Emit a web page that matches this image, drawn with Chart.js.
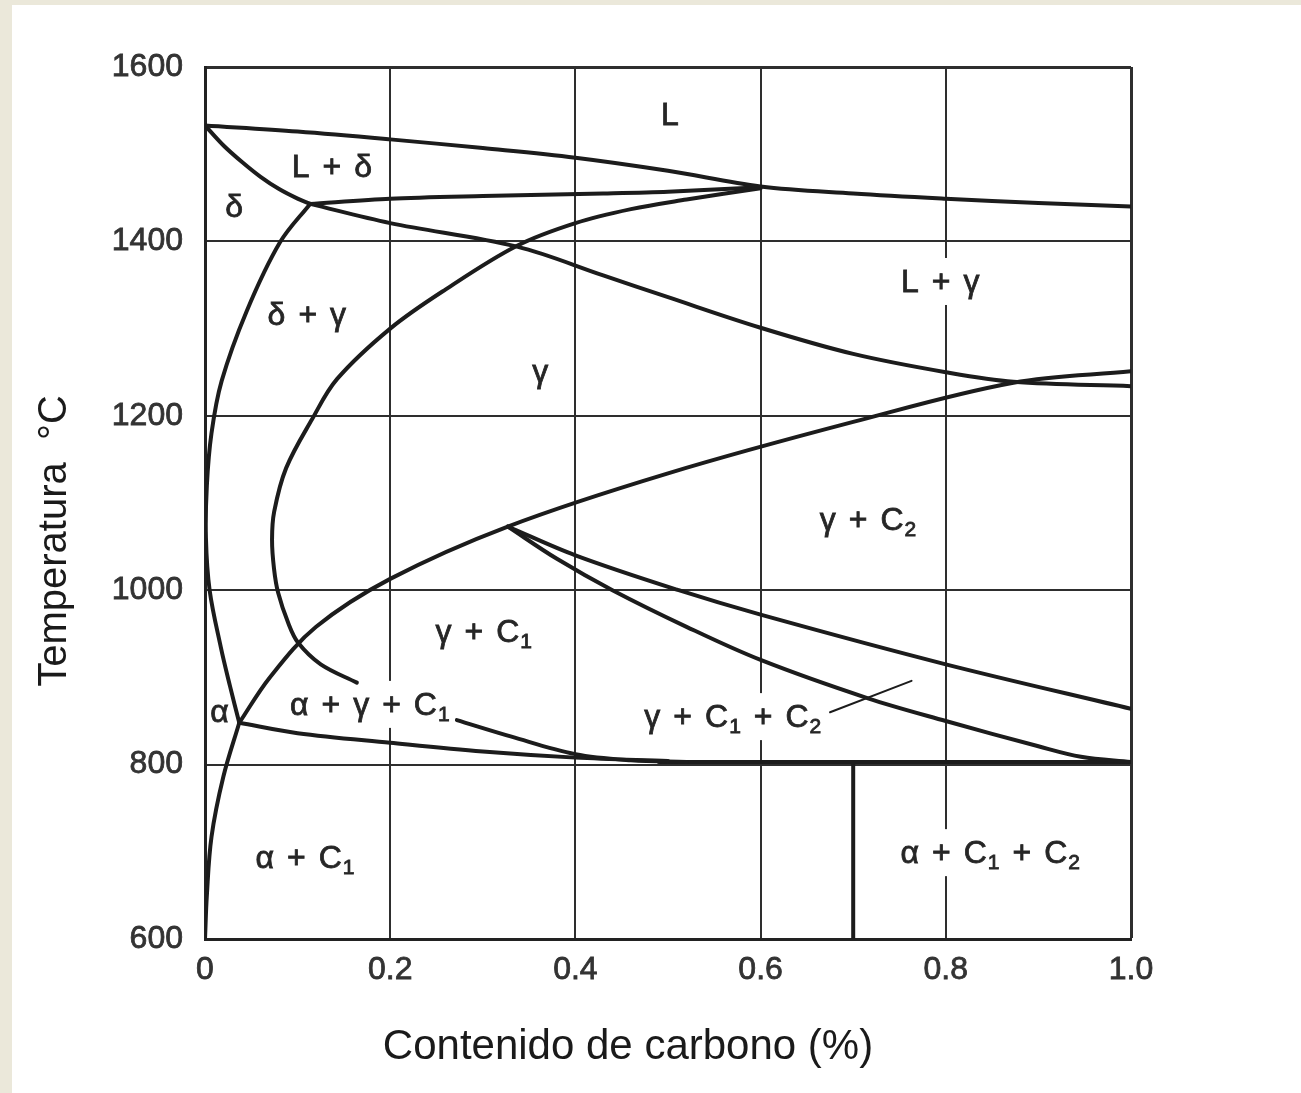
<!DOCTYPE html>
<html lang="es">
<head>
<meta charset="utf-8">
<title>Diagrama de fases Fe-C</title>
<script src="https://cdn.jsdelivr.net/npm/chart.js@4.4.1/dist/chart.umd.min.js"></script>
<style>
  html, body { margin: 0; padding: 0; background: #ebe8da; }
  #panel { position: absolute; left: 12px; top: 5px; width: 1289px; height: 1088px; background: #fff; }
  #chart { position: absolute; left: 0; top: 0; }
</style>
</head>
<body>
<div id="panel"></div>
<canvas id="chart" width="1301" height="1093"></canvas>
<script>
// ---- ejes ----
const xTicks = [0, 0.2, 0.4, 0.6, 0.8, 1.0];
const xTickLabels = ['0', '0.2', '0.4', '0.6', '0.8', '1.0'];
const yTicks = [600, 800, 1000, 1200, 1400, 1600];
const yTickLabels = ['600', '800', '1000', '1200', '1400', '1600'];
const xTitle = 'Contenido de carbono (%)';
const yTitle = 'Temperatura  °C';

// ---- líneas del diagrama: [ % C , °C ] ----
const liquidus = [[0, 1533], [0.1, 1526], [0.2, 1517], [0.3, 1507], [0.4, 1496], [0.5, 1481], [0.6, 1463], [0.7, 1455], [0.8, 1449], [0.9, 1444], [1.0, 1440]];
const deltaSolidus = [[0, 1533], [0.02, 1510], [0.04, 1491], [0.06, 1474], [0.08, 1460], [0.1, 1449], [0.1135, 1443]];
const peritectic = [[0.1135, 1443], [0.2, 1449], [0.3, 1452], [0.43, 1455], [0.5, 1457], [0.6, 1462]];
const ferriteEdge = [[0.1135, 1443], [0.081, 1399], [0.045, 1320], [0.018, 1240], [0.007, 1180], [0.002, 1120], [0.001, 1060], [0.005, 1000], [0.017, 935], [0.027, 890], [0.037, 848]];
const austeniteEdge = [[0.6, 1461], [0.52, 1448], [0.46, 1437], [0.4, 1421], [0.337, 1395], [0.26, 1345], [0.2, 1300], [0.1425, 1242], [0.1156, 1196], [0.0876, 1140], [0.0747, 1090], [0.0724, 1058], [0.0745, 1025], [0.079, 997], [0.09, 962], [0.1004, 940], [0.125, 915], [0.164, 894]];
const gammaSolidus = [[0.1135, 1443], [0.2, 1421], [0.337, 1394], [0.43, 1361], [0.5, 1336], [0.6, 1301], [0.7, 1271], [0.8, 1250], [0.873, 1239], [1.0, 1234]];
const gammaSolvus = [[0.037, 848], [0.07, 900], [0.12, 958], [0.2, 1013], [0.327, 1073], [0.5, 1134], [0.7, 1193], [0.873, 1238], [1.0, 1251]];
const carbideUpper = [[0.327, 1073], [0.4, 1040], [0.5115, 1000], [0.6, 972], [0.8, 915], [1.0, 864]];
const carbideLower = [[0.327, 1073], [0.38, 1036], [0.44, 1000], [0.52, 958], [0.6, 920], [0.716, 876], [0.8, 850], [0.9, 821], [0.946, 809], [1.0, 803]];
const alphaSolvus = [[0.037, 848], [0.0198, 786], [0.007, 717], [0.002, 650], [0, 600]];
const eutectoidLow = [[0.037, 848], [0.1, 836], [0.2, 825], [0.3, 815], [0.4, 808], [0.5, 804]];
const eutectoidHigh = [[0.272, 851], [0.331, 832], [0.4, 812], [0.46, 805], [0.52, 803]];
const eutectoidFlat = [[0.49, 803], [1.0, 803]];
const carbideSplit = [[0.7, 803], [0.7, 600]];
const leaderLine = [[0.675, 860], [0.763, 896]];

// ---- nombres de las regiones: [texto, % C, °C de la línea base] ----
const regionLabels = [
  ['L', 0.502, 1533],
  ['L + δ', 0.137, 1474],
  ['δ', 0.0315, 1428],
  ['δ + γ', 0.110, 1304],
  ['γ', 0.362, 1239],
  ['L + γ', 0.794, 1342],
  ['γ + C_2', 0.716, 1069],
  ['γ + C_1', 0.301, 941],
  ['α + γ + C_1', 0.178, 857],
  ['α', 0.0157, 849],
  ['γ + C_1 + C_2', 0.570, 843],
  ['α + C_1', 0.108, 681],
  ['α + C_1 + C_2', 0.848, 687]
];

const FONT = '"Liberation Sans", Arial, Helvetica, sans-serif';
const INK = '#1c1c1c';

function line(points, opts) {
  return Object.assign({
    data: points.map(([x, y]) => ({ x, y })),
    showLine: true,
    borderColor: INK,
    borderWidth: 4,
    tension: 0.35,
    pointRadius: 0,
    pointHoverRadius: 0,
    fill: false,
    borderCapStyle: 'round',
    borderJoinStyle: 'round'
  }, opts || {});
}

// texto tipo "α + C_1": los tokens se separan con un hueco fijo, "_" marca subíndice
function drawRegionLabel(ctx, text, cx, base) {
  const size = 32, subSize = 21, gap = 13;
  const tokens = text.split(' ').map(t => t.split('_'));
  const widths = tokens.map(([main, sub]) => {
    ctx.font = size + 'px ' + FONT;
    let w = ctx.measureText(main).width;
    if (sub) {
      ctx.font = subSize + 'px ' + FONT;
      w += 1 + ctx.measureText(sub).width;
    }
    return w;
  });
  const total = widths.reduce((a, b) => a + b, 0) + gap * (tokens.length - 1);
  let x = cx - total / 2;

  // fondo blanco que corta la cuadrícula bajo el texto
  ctx.fillStyle = '#fff';
  ctx.fillRect(x - 3, base - 34, total + 6, 47);

  ctx.fillStyle = '#262626';
  ctx.strokeStyle = '#262626';
  ctx.lineWidth = 0.8;
  ctx.textBaseline = 'alphabetic';
  ctx.textAlign = 'left';
  tokens.forEach(([main, sub], i) => {
    ctx.font = size + 'px ' + FONT;
    ctx.fillText(main, x, base);
    ctx.strokeText(main, x, base);
    if (sub) {
      const mw = ctx.measureText(main).width;
      ctx.font = subSize + 'px ' + FONT;
      ctx.fillText(sub, x + mw + 1, base + 6);
      ctx.strokeText(sub, x + mw + 1, base + 6);
    }
    x += widths[i] + gap;
  });
}

const regionLabelPlugin = {
  id: 'regionLabels',
  beforeDatasetsDraw(chart) {
    const { ctx, scales } = chart;
    ctx.save();
    regionLabels.forEach(([text, c, t]) => {
      drawRegionLabel(ctx, text, scales.x.getPixelForValue(c), scales.y.getPixelForValue(t));
    });
    ctx.restore();
  }
};

const axisTitlePlugin = {
  id: 'axisTitles',
  afterDraw(chart) {
    const { ctx } = chart;
    ctx.save();
    ctx.fillStyle = '#1a1a1a';
    ctx.textAlign = 'center';
    ctx.textBaseline = 'alphabetic';
    ctx.font = '42px ' + FONT;
    ctx.fillText(xTitle, 628, 1059);
    ctx.translate(55, 541);
    ctx.rotate(-Math.PI / 2);
    ctx.font = '40px ' + FONT;
    ctx.textBaseline = 'middle';
    ctx.fillText(yTitle, 0, 0);
    ctx.restore();
  }
};

const edgeWidth = (c) => (c.tick && (c.tick.value === 1 || c.tick.value === 1600) ? 3 : 2);

new Chart(document.getElementById('chart'), {
  type: 'scatter',
  data: {
    datasets: [
      line(liquidus),
      line(deltaSolidus),
      line(peritectic, { tension: 0.3 }),
      line(ferriteEdge),
      line(austeniteEdge),
      line(gammaSolidus),
      line(gammaSolvus),
      line(carbideUpper),
      line(carbideLower),
      line(alphaSolvus),
      line(eutectoidLow),
      line(eutectoidHigh),
      line(eutectoidFlat, { tension: 0 }),
      line(carbideSplit, { tension: 0 }),
      line(leaderLine, { tension: 0, borderWidth: 2 })
    ]
  },
  options: {
    responsive: false,
    animation: false,
    events: [],
    layout: { padding: { top: 67, right: 170, left: 0, bottom: 0 } },
    plugins: { legend: { display: false }, tooltip: { enabled: false } },
    scales: {
      x: {
        type: 'linear',
        min: 0,
        max: 1,
        afterBuildTicks: (s) => { s.ticks = xTicks.map(v => ({ value: v })); },
        afterFit: (s) => { s.height = 154; },
        ticks: {
          callback: (v, i) => xTickLabels[i],
          font: { family: FONT, size: 32 },
          color: '#333',
          textStrokeColor: '#333',
          textStrokeWidth: 0.8,
          padding: 12,
          maxRotation: 0,
          autoSkip: false
        },
        grid: { color: '#2e2e2e', lineWidth: edgeWidth, drawTicks: false },
        border: { display: true, color: '#222', width: 3 }
      },
      y: {
        type: 'linear',
        min: 600,
        max: 1600,
        afterBuildTicks: (s) => { s.ticks = yTicks.map(v => ({ value: v })); },
        afterFit: (s) => { s.width = 205; },
        ticks: {
          callback: (v, i) => yTickLabels[i],
          font: { family: FONT, size: 32 },
          color: '#333',
          textStrokeColor: '#333',
          textStrokeWidth: 0.8,
          padding: 22,
          autoSkip: false
        },
        grid: { color: '#2e2e2e', lineWidth: edgeWidth, drawTicks: false },
        border: { display: true, color: '#222', width: 3 }
      }
    }
  },
  plugins: [regionLabelPlugin, axisTitlePlugin]
});
</script>
</body>
</html>
